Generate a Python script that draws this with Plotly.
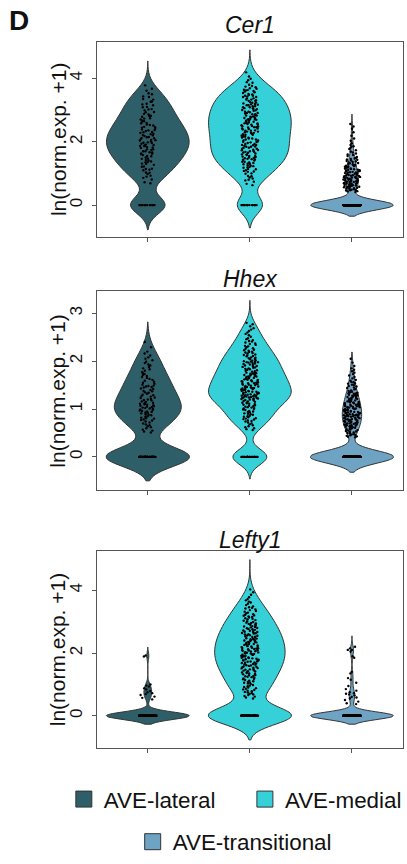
import plotly.graph_objects as go

categories = ["AVE-lateral", "AVE-medial", "AVE-transitional"]
colors = ["#2e5e68", "#36d0d9", "#6ea3c4"]
genes = ["Cer1", "Hhex", "Lefty1"]

# non-zero expression values (ln(norm.exp.+1))
cer1_lateral = [
    0.69, 0.72, 0.81, 0.86,
    0.9, 0.93, 0.98, 1.02, 1.03, 1.1, 1.12,
    1.14, 1.15, 1.21, 1.22, 1.27, 1.3, 1.31, 1.35, 1.36,
    1.38, 1.41, 1.42, 1.46, 1.47, 1.5, 1.54, 1.55, 1.58, 1.61, 1.62,
    1.63, 1.66, 1.67, 1.7, 1.7, 1.74, 1.76, 1.76, 1.8, 1.82, 1.83, 1.86, 1.87,
    1.88, 1.9, 1.91, 1.94, 1.96, 1.97, 1.98, 2.01, 2.04, 2.05, 2.06, 2.09, 2.11, 2.12,
    2.14, 2.15, 2.18, 2.2, 2.21, 2.24, 2.25, 2.28, 2.3, 2.31, 2.34, 2.36, 2.37,
    2.39, 2.4, 2.44, 2.46, 2.47, 2.51, 2.53, 2.54, 2.58, 2.59, 2.62,
    2.65, 2.66, 2.7, 2.73, 2.74, 2.79, 2.81, 2.82, 2.86,
    2.88, 2.93, 2.94, 2.99, 3.02, 3.03, 3.09, 3.1,
    3.15, 3.18, 3.2, 3.26, 3.27, 3.33, 3.35,
    3.41, 3.43, 3.5, 3.53, 3.61,
    3.67, 3.78,
]
cer1_medial = [
    0.63, 0.67, 0.74,
    0.78, 0.8, 0.84, 0.87, 0.91, 0.92, 0.99,
    1.0, 1.05, 1.06, 1.08, 1.1, 1.13, 1.14, 1.18, 1.19, 1.21, 1.23, 1.24,
    1.25, 1.29, 1.3, 1.31, 1.33, 1.35, 1.37, 1.37, 1.41, 1.43, 1.44, 1.45, 1.46, 1.48, 1.49,
    1.5, 1.52, 1.53, 1.55, 1.55, 1.58, 1.6, 1.6, 1.63, 1.65, 1.66, 1.68, 1.68, 1.7, 1.71,
    1.73, 1.74,
    1.75, 1.78, 1.78, 1.81, 1.81, 1.84, 1.84, 1.85, 1.87, 1.89, 1.9, 1.9, 1.93, 1.93, 1.96,
    1.98, 1.99,
    2.0, 2.01, 2.04, 2.04, 2.07, 2.07, 2.1, 2.1, 2.13, 2.13, 2.16, 2.16, 2.19, 2.19, 2.22,
    2.22, 2.24,
    2.25, 2.28, 2.28, 2.3, 2.32, 2.32, 2.35, 2.35, 2.36, 2.39, 2.4, 2.42, 2.42, 2.45, 2.46,
    2.46, 2.48, 2.49,
    2.5, 2.52, 2.54, 2.54, 2.56, 2.58, 2.58, 2.6, 2.61, 2.63, 2.65, 2.67, 2.67, 2.69, 2.71,
    2.71, 2.72, 2.74,
    2.75, 2.77, 2.79, 2.79, 2.8, 2.83, 2.83, 2.85, 2.87, 2.87, 2.89, 2.91, 2.91, 2.93, 2.95,
    2.95, 2.98, 2.99,
    3.0, 3.03, 3.03, 3.06, 3.06, 3.09, 3.09, 3.12, 3.12, 3.15, 3.15, 3.17, 3.18, 3.19, 3.21,
    3.23, 3.24,
    3.25, 3.29, 3.29, 3.31, 3.33, 3.33, 3.37, 3.37, 3.41, 3.41, 3.43, 3.45, 3.45, 3.48, 3.49,
    3.51, 3.54, 3.56, 3.58, 3.6, 3.62, 3.63, 3.64, 3.67, 3.69, 3.72, 3.74,
    3.76, 3.8, 3.86, 3.88, 3.94, 3.99,
    4.06, 4.19,
]
cer1_transitional = [
    0.41, 0.43, 0.44, 0.46, 0.47, 0.48, 0.49, 0.5,
    0.51, 0.52, 0.53, 0.54, 0.55, 0.56, 0.57, 0.58, 0.58, 0.59, 0.6, 0.61, 0.62, 0.63,
    0.63, 0.64, 0.65, 0.66, 0.67, 0.68, 0.68, 0.69, 0.7, 0.71, 0.72, 0.73, 0.73, 0.74,
    0.75, 0.76, 0.77, 0.78, 0.78, 0.79, 0.8, 0.81, 0.82, 0.83, 0.83, 0.84, 0.85, 0.86,
    0.87, 0.88, 0.88, 0.89, 0.9, 0.91, 0.92, 0.93, 0.93, 0.94, 0.95, 0.96, 0.97, 0.99,
    1.0, 1.01, 1.02, 1.03, 1.04, 1.05, 1.06, 1.07, 1.08, 1.09, 1.1, 1.11, 1.12, 1.13,
    1.14, 1.15, 1.16, 1.17, 1.19, 1.2, 1.21, 1.22, 1.23, 1.24,
    1.26, 1.27, 1.29, 1.3, 1.32, 1.33, 1.35, 1.36, 1.38, 1.39, 1.41, 1.43, 1.44, 1.46, 1.47, 1.49,
    1.52, 1.55, 1.58, 1.6, 1.63, 1.66, 1.69, 1.73,
    1.77, 1.8, 1.84, 1.86, 1.9, 1.95,
    2.03, 2.1, 2.19,
    2.3, 2.41, 2.48,
    2.56,
]
hhex_lateral = [
    0.51, 0.53, 0.55, 0.57, 0.6, 0.62, 0.64, 0.66, 0.68, 0.7, 0.72, 0.74,
    0.76, 0.77, 0.78, 0.8, 0.81, 0.82, 0.84, 0.85, 0.87, 0.88, 0.89, 0.91, 0.92, 0.93,
    0.94, 0.95, 0.96, 0.97, 0.98, 0.99,
    1.0, 1.01, 1.02, 1.03, 1.04, 1.05, 1.06, 1.07, 1.08, 1.09, 1.1, 1.11, 1.12, 1.13,
    1.15, 1.16, 1.18, 1.19, 1.2, 1.21, 1.23, 1.24,
    1.26, 1.27, 1.29, 1.3, 1.32, 1.34, 1.35, 1.37, 1.38, 1.4, 1.42, 1.43, 1.45, 1.46, 1.47, 1.48, 1.49,
    1.51, 1.53, 1.55, 1.57, 1.59, 1.61, 1.63, 1.65, 1.67, 1.69, 1.71, 1.73, 1.74,
    1.77, 1.8, 1.83, 1.85, 1.88, 1.91, 1.93, 1.96, 1.99,
    2.02, 2.05, 2.08, 2.12, 2.16, 2.2,
    2.29, 2.4,
]
hhex_medial = [
    0.56, 0.58, 0.6, 0.62, 0.64, 0.66, 0.68, 0.7, 0.72, 0.74,
    0.75, 0.76, 0.78, 0.79, 0.8, 0.81, 0.83, 0.84, 0.85, 0.86, 0.88, 0.89, 0.9, 0.91, 0.93,
    0.94, 0.95, 0.96, 0.98, 0.99,
    1.0, 1.01, 1.02, 1.03, 1.04, 1.05, 1.06, 1.07, 1.08, 1.09, 1.1, 1.11, 1.12, 1.13, 1.14,
    1.15, 1.16, 1.17, 1.18, 1.19, 1.2, 1.2, 1.21, 1.22, 1.22, 1.23, 1.23, 1.24, 1.24, 1.25,
    1.26, 1.26, 1.27, 1.27, 1.28, 1.28, 1.29, 1.3, 1.3, 1.31, 1.32, 1.32, 1.33, 1.34, 1.34,
    1.35, 1.36, 1.36, 1.37, 1.38, 1.38, 1.39, 1.4, 1.4, 1.41, 1.42, 1.42, 1.43, 1.44, 1.44,
    1.45, 1.46, 1.46, 1.47, 1.48, 1.49,
    1.5, 1.51, 1.51, 1.52, 1.53, 1.54, 1.54, 1.55, 1.56, 1.57, 1.58, 1.58, 1.59, 1.6, 1.61,
    1.61, 1.62, 1.63, 1.64, 1.65, 1.65, 1.66, 1.67, 1.68, 1.68, 1.69, 1.7, 1.71, 1.71, 1.72,
    1.73, 1.74, 1.74,
    1.75, 1.76, 1.77, 1.78, 1.79, 1.8, 1.81, 1.82, 1.83, 1.84, 1.85, 1.86, 1.87, 1.88, 1.89,
    1.9, 1.91, 1.92, 1.93, 1.94, 1.95, 1.96, 1.97, 1.98, 1.98, 1.99, 1.99,
    2.0, 2.01, 2.02, 2.04, 2.05, 2.06, 2.07, 2.08, 2.1, 2.11, 2.12, 2.13, 2.14, 2.16, 2.17,
    2.18, 2.19, 2.2, 2.22, 2.23, 2.24,
    2.26, 2.27, 2.29, 2.31, 2.32, 2.34, 2.36, 2.37, 2.39, 2.41, 2.42, 2.44, 2.46, 2.48,
    2.51, 2.54, 2.57, 2.6, 2.63, 2.66, 2.69, 2.73,
    2.77, 2.8,
]
hhex_transitional = [
    0.41, 0.42, 0.43, 0.44, 0.45, 0.46, 0.47, 0.48, 0.49, 0.5, 0.51, 0.52, 0.53, 0.54,
    0.55, 0.56, 0.57, 0.58, 0.59, 0.6, 0.61, 0.62,
    0.63, 0.63, 0.64, 0.64, 0.65, 0.66, 0.66, 0.67, 0.67, 0.68, 0.69, 0.69, 0.7, 0.7, 0.71,
    0.72, 0.72, 0.73, 0.73, 0.74, 0.75, 0.75, 0.76, 0.76, 0.77, 0.78, 0.78, 0.79, 0.79, 0.8,
    0.81, 0.81, 0.82, 0.82, 0.83, 0.84, 0.84, 0.85, 0.85, 0.86, 0.86, 0.87, 0.87, 0.87,
    0.88, 0.88, 0.89, 0.89, 0.9, 0.91, 0.91, 0.92, 0.92, 0.93, 0.94, 0.94, 0.95, 0.95, 0.96,
    0.97, 0.97, 0.98, 0.98, 0.99, 1.0, 1.0, 1.01, 1.01, 1.02, 1.03, 1.03, 1.04, 1.04, 1.05,
    1.06, 1.06, 1.07, 1.07, 1.08, 1.09, 1.09, 1.1, 1.1, 1.11, 1.12, 1.12,
    1.13, 1.14, 1.14, 1.15, 1.16, 1.17, 1.17, 1.18, 1.19, 1.2, 1.21, 1.21, 1.22, 1.23, 1.24,
    1.25, 1.25, 1.26, 1.27, 1.28, 1.29, 1.29, 1.3, 1.31, 1.32, 1.33, 1.33, 1.34, 1.35, 1.36,
    1.38, 1.39, 1.41, 1.42, 1.44, 1.45, 1.47, 1.48, 1.5, 1.51, 1.53, 1.54, 1.56, 1.57, 1.59, 1.61,
    1.64, 1.67, 1.7, 1.73, 1.76, 1.79, 1.82, 1.85,
    1.9, 1.97, 2.05,
]
lefty1_lateral = [0.52, 0.57, 0.61, 0.66, 0.69, 0.72, 0.75, 0.79, 0.84, 0.88,
                  0.93, 0.96, 1.0, 1.89, 1.92]
lefty1_medial = [
    0.55, 0.58, 0.61, 0.63, 0.66, 0.68, 0.7, 0.72, 0.74,
    0.76, 0.78, 0.8, 0.82, 0.84, 0.86, 0.88, 0.9, 0.92, 0.94, 0.96, 0.98,
    1.01, 1.03, 1.05, 1.06, 1.08, 1.1, 1.12, 1.14, 1.16, 1.17, 1.19, 1.21, 1.23, 1.24,
    1.26, 1.27, 1.29, 1.3, 1.32, 1.33, 1.35, 1.36, 1.38, 1.39, 1.41, 1.42, 1.44, 1.45, 1.47,
    1.48, 1.49,
    1.51, 1.52, 1.53, 1.55, 1.56, 1.57, 1.59, 1.6, 1.61, 1.63, 1.64, 1.65, 1.67, 1.68, 1.69,
    1.7, 1.72, 1.73, 1.74,
    1.76, 1.77, 1.78, 1.79, 1.8, 1.82, 1.83, 1.84, 1.85, 1.86, 1.88, 1.89, 1.9, 1.91, 1.92,
    1.94, 1.95, 1.96, 1.97, 1.99,
    2.0, 2.01, 2.02, 2.03, 2.05, 2.06, 2.07, 2.08, 2.09, 2.1, 2.12, 2.13, 2.14, 2.15, 2.16,
    2.17, 2.19, 2.2, 2.21, 2.22, 2.24,
    2.26, 2.27, 2.28, 2.29, 2.3, 2.32, 2.33, 2.34, 2.35, 2.36, 2.38, 2.39, 2.4, 2.41, 2.42,
    2.44, 2.45, 2.46, 2.47, 2.49,
    2.51, 2.52, 2.53, 2.55, 2.56, 2.57, 2.59, 2.6, 2.62, 2.63, 2.64, 2.66, 2.67, 2.68, 2.7,
    2.71, 2.72, 2.74,
    2.76, 2.77, 2.79, 2.8, 2.82, 2.83, 2.85, 2.86, 2.88, 2.9, 2.91, 2.93, 2.94, 2.96, 2.97, 2.99,
    3.01, 3.03, 3.05, 3.07, 3.09, 3.11, 3.13, 3.15, 3.17, 3.19, 3.2, 3.22, 3.24,
    3.27, 3.29, 3.32, 3.34, 3.37, 3.39, 3.42, 3.44, 3.46, 3.49,
    3.53, 3.57, 3.61, 3.64, 3.68, 3.72,
    3.78, 3.86, 3.94,
    4.03,
]
lefty1_transitional = [0.37, 0.4, 0.45, 0.5, 0.55, 0.58, 0.6, 0.65, 0.68, 0.7, 0.72, 0.75,
                       0.8, 0.85, 0.95, 1.05, 1.15, 1.2, 1.35, 1.4, 1.85, 1.9, 2.05, 2.1,
                       2.1, 2.15, 2.2]

nonzero_values = {
    "Cer1": [cer1_lateral, cer1_medial, cer1_transitional],
    "Hhex": [hhex_lateral, hhex_medial, hhex_transitional],
    "Lefty1": [lefty1_lateral, lefty1_medial, lefty1_transitional],
}
# number of cells with zero expression per group
zero_counts = {"Cer1": [15, 15, 280], "Hhex": [50, 23, 240], "Lefty1": [80, 66, 130]}
# kernel bandwidths and density spans of each violin
bandwidths = {"Cer1": [0.28, 0.28, 0.15], "Hhex": [0.2, 0.16, 0.13], "Lefty1": [0.12, 0.28, 0.12]}
spans = {
    "Cer1": [[-0.78, 4.55], [-0.72, 4.9], [-0.35, 2.87]],
    "Hhex": [[-0.5, 2.82], [-0.46, 3.27], [-0.32, 2.19]],
    "Lefty1": [[-0.27, 2.19], [-0.77, 4.98], [-0.27, 2.55]],
}
ytick_values = {"Cer1": [0, 2, 4], "Hhex": [0, 1, 2, 3], "Lefty1": [0, 2, 4]}
y_ranges = {"Cer1": [-1.0, 5.16], "Hhex": [-0.70, 3.46], "Lefty1": [-1.03, 5.26]}

W, H = 407, 864
FONT = "Liberation Sans, Arial, Helvetica, sans-serif"
OUTLINE = "#333333"
AXIS = "#555555"

# panel pixel boxes (top, bottom) and shared left/right
panel_px = [(42, 239), (294, 495), (556, 755)]
title_px = [25, 282, 545]
left_px, right_px = 97, 404

fig = go.Figure()

for gi, gene in enumerate(genes):
    suffix = "" if gi == 0 else str(gi + 1)
    xa, ya = "x" + suffix, "y" + suffix
    for ci, cat in enumerate(categories):
        nz = nonzero_values[gene][ci]
        n0 = zero_counts[gene][ci]
        samples = [0.0] * n0 + nz
        bw = bandwidths[gene][ci]
        sp = spans[gene][ci]
        common = dict(xaxis=xa, yaxis=ya, bandwidth=bw, spanmode="manual", span=sp,
                      scalemode="width", width=0.81, showlegend=False, hoverinfo="skip")
        fig.add_trace(go.Violin(x=[cat] * len(samples), y=samples, points=False,
                                fillcolor=colors[ci], line=dict(color=OUTLINE, width=1),
                                **common))
        for pts in (nz, [0.0] * n0):
            fig.add_trace(go.Violin(x=[cat] * len(pts), y=pts, points="all", jitter=0.21,
                                    pointpos=0, fillcolor="rgba(0,0,0,0)",
                                    line=dict(color="rgba(0,0,0,0)", width=0),
                                    marker=dict(size=2.4, color="black"), **common))

    top, bottom = panel_px[gi]
    fig.layout["xaxis" + suffix] = dict(
        domain=[left_px / W, right_px / W], anchor=ya, type="category",
        categoryorder="array", categoryarray=categories, range=[-0.5, 2.5],
        showticklabels=False, ticks="outside", ticklen=4, tickcolor=AXIS,
        showline=True, mirror=True, linecolor=AXIS, linewidth=1, showgrid=False,
        zeroline=False, fixedrange=True)
    fig.layout["yaxis" + suffix] = dict(
        domain=[1 - bottom / H, 1 - top / H], anchor=xa, range=y_ranges[gene],
        tickvals=ytick_values[gene], ticks="outside", ticklen=4, tickcolor=AXIS,
        tickangle=-90, tickfont=dict(size=17, color="#111", family=FONT),
        ticklabelstandoff=3,
        showline=True, mirror=True, linecolor=AXIS, linewidth=1, showgrid=False,
        zeroline=False, fixedrange=True)
    fig.add_annotation(text="ln(norm.exp. +1)", xref="paper", yref="paper",
                       x=58 / W, y=1 - (top + bottom) / 2 / H, textangle=-90,
                       showarrow=False, xanchor="center", yanchor="middle",
                       font=dict(size=21, color="#111", family=FONT))
    fig.add_annotation(text=gene, xref="paper", yref="paper",
                       x=251 / W, y=1 - title_px[gi] / H, showarrow=False,
                       xanchor="center", yanchor="middle",
                       font=dict(size=23, color="#111", family=FONT, style="italic"))

fig.add_annotation(text="<b>D</b>", xref="paper", yref="paper", x=7 / W, y=1 - 21 / H,
                   showarrow=False, xanchor="left", yanchor="middle",
                   font=dict(size=28, color="#111", family=FONT))

# legend: one legend box per entry
legend_names = ["legend", "legend2", "legend3"]
legend_pos_px = [(85.5, 807), (267, 807), (154.5, 850)]
for ci, cat in enumerate(categories):
    fig.add_trace(go.Scatter(x=[None], y=[None], mode="markers", name=cat,
                             marker=dict(symbol="square", size=17, color=colors[ci],
                                         line=dict(color=OUTLINE, width=1)),
                             legend=legend_names[ci], xaxis="x3", yaxis="y3",
                             hoverinfo="skip", showlegend=True))
for ln, (cx, cy) in zip(legend_names, legend_pos_px):
    fig.layout[ln] = dict(x=(cx - 21.5) / W, y=1 - cy / H, xanchor="left", yanchor="middle",
                          orientation="h", bgcolor="rgba(0,0,0,0)", borderwidth=0,
                          font=dict(size=22.4, color="#111", family=FONT),
                          itemclick=False, itemdoubleclick=False)

fig.update_layout(width=W, height=H, margin=dict(l=0, r=0, t=0, b=0),
                  paper_bgcolor="white", plot_bgcolor="white", violinmode="overlay",
                  showlegend=True)

fig.write_html("out.html", config={"displayModeBar": False},
               post_script="document.body.style.margin='0';document.body.style.padding='0';")
